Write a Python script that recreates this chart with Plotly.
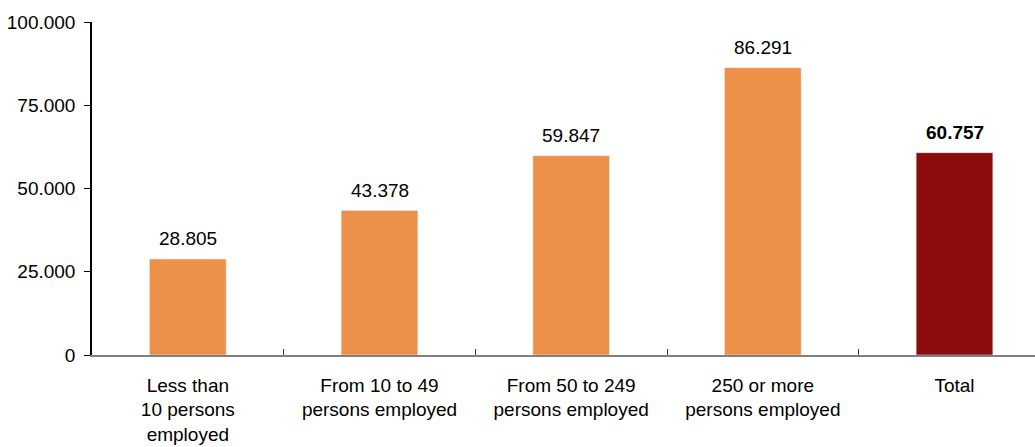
import plotly.graph_objects as go

categories = ["Less than<br>10 persons<br>employed", "From 10 to 49<br>persons employed",
              "From 50 to 249<br>persons employed", "250 or more<br>persons employed", "Total"]
values = [28805, 43378, 59847, 86291, 60757]
colors = ["#ED9149", "#ED9149", "#ED9149", "#ED9149", "#8B0C0C"]
y_ticks = [0, 25000, 50000, 75000, 100000]

FONT = "Liberation Sans, Arial, sans-serif"

def fmt(v):
    return f"{v:,}".replace(",", ".")

fig = go.Figure()
fig.add_trace(go.Bar(x=categories, y=values, marker_color=colors,
                     width=0.4, hoverinfo="skip"))

for c, v in zip(categories, values):
    t = fmt(v)
    if c == "Total":
        t = f"<b>{t}</b>"
    fig.add_annotation(x=c, y=v, text=t, showarrow=False, yanchor="bottom", yshift=8,
                       font=dict(size=19, color="black", family=FONT))

fig.update_layout(
    width=1035, height=447,
    margin=dict(l=92, r=0, t=22, b=92),
    paper_bgcolor="white", plot_bgcolor="white",
    separators=",.",
    showlegend=False,
    font=dict(family=FONT, size=19, color="black"),
    xaxis=dict(
        type="category", categoryorder="array", categoryarray=categories,
        range=[-0.5, 4.42], showline=True, linecolor="#808080", linewidth=1.5,
        ticks="inside", tickson="boundaries", ticklen=6, tickcolor="#404040",
        showgrid=False, zeroline=False, tickfont=dict(size=19, color="black"),
        ticklabelstandoff=12,
    ),
    yaxis=dict(
        range=[0, 100000], tickvals=y_ticks, tickformat=",d",
        showline=True, linecolor="black", linewidth=1.5, ticks="outside", ticklen=6,
        tickcolor="black", showgrid=False, zeroline=False, tickfont=dict(size=19, color="black"),
        ticklabelstandoff=5,
    ),
)

fig.write_html("out.html", post_script="document.body.style.margin='0';",
               config={"displayModeBar": False})
